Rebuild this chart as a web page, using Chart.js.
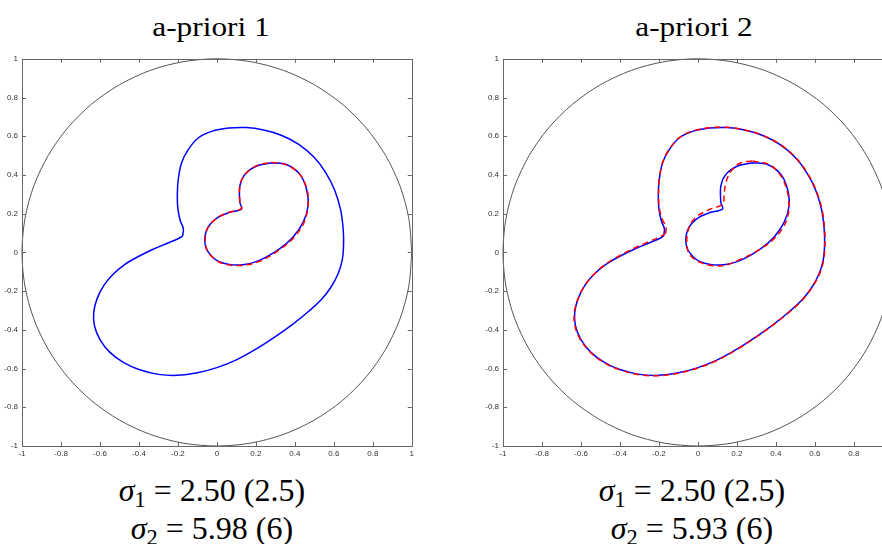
<!DOCTYPE html>
<html>
<head>
<meta charset="utf-8">
<script src="https://cdn.jsdelivr.net/npm/chart.js@4.4.0/dist/chart.umd.min.js"></script>
<style>
html, body { margin: 0; padding: 0; width: 882px; height: 544px; overflow: hidden; background: #fff; }
canvas { position: absolute; }
.title { position: absolute; top: 13px; width: 300px; text-align: center; line-height: 28px;
         font-family: 'Liberation Serif', 'DejaVu Serif', 'Times New Roman', Times, serif; font-size: 27px; color: #000;
         transform: scaleX(1.16); }
.sigma { position: absolute; top: 471px; width: 320px; text-align: center; line-height: 38px;
         font-family: 'Liberation Serif', 'DejaVu Serif', 'Times New Roman', Times, serif; font-size: 32px; color: #000; }
.sigma sub { font-size: 0.7em; vertical-align: -0.25em; line-height: 0; }
</style>
</head>
<body>
<div class="title" style="left:61px">a-priori 1</div>
<div class="title" style="left:544px">a-priori 2</div>
<canvas id="chart1" width="417" height="416" style="left:0px; top:50px"></canvas>
<canvas id="chart2" width="417" height="416" style="left:481px; top:50px"></canvas>
<div class="sigma" style="left:52px"><i>σ</i><sub>1</sub> = 2.50 (2.5)<br><i>σ</i><sub>2</sub> = 5.98 (6)</div>
<div class="sigma" style="left:532px"><i>σ</i><sub>1</sub> = 2.50 (2.5)<br><i>σ</i><sub>2</sub> = 5.93 (6)</div>
<script>
// unit circle
let circleX = [1, 0.985, 0.940, 0.866, 0.766, 0.643, 0.5, 0.342, 0.174, 0, -0.174, -0.342, -0.5, -0.643, -0.766, -0.866, -0.940, -0.985,
               -1, -0.985, -0.940, -0.866, -0.766, -0.643, -0.5, -0.342, -0.174, 0, 0.174, 0.342, 0.5, 0.643, 0.766, 0.866, 0.940, 0.985, 1];
let circleY = [0, 0.174, 0.342, 0.5, 0.643, 0.766, 0.866, 0.940, 0.985, 1, 0.985, 0.940, 0.866, 0.766, 0.643, 0.5, 0.342, 0.174,
               0, -0.174, -0.342, -0.5, -0.643, -0.766, -0.866, -0.940, -0.985, -1, -0.985, -0.940, -0.866, -0.766, -0.643, -0.5, -0.342, -0.174, 0];

// true boundary (blue), outer curve
let outerX = [-0.176, -0.172, -0.188, -0.200, -0.203, -0.198, -0.181, -0.147, -0.096, -0.027, 0.060, 0.150, 0.240, 0.330, 0.420, 0.500,
              0.560, 0.605, 0.635, 0.648, 0.650, 0.643, 0.622, 0.585, 0.535, 0.470, 0.390, 0.300, 0.200, 0.100, 0.000, -0.100, -0.200,
              -0.300, -0.400, -0.480, -0.550, -0.600, -0.628, -0.632, -0.615, -0.580, -0.530, -0.470, -0.400, -0.330, -0.260, -0.205, -0.176];
let outerY = [0.084, 0.122, 0.165, 0.225, 0.293, 0.378, 0.463, 0.531, 0.591, 0.625, 0.642, 0.645, 0.632, 0.605, 0.558, 0.490,
              0.410, 0.320, 0.220, 0.120, 0.040, -0.040, -0.110, -0.180, -0.245, -0.305, -0.370, -0.435, -0.500, -0.555, -0.595, -0.622, -0.635,
              -0.630, -0.605, -0.568, -0.515, -0.450, -0.380, -0.310, -0.240, -0.170, -0.110, -0.060, -0.020, 0.015, 0.045, 0.068, 0.084];

// true boundary (blue), inner curve
let innerX = [0.280, 0.357, 0.426, 0.460, 0.468, 0.443, 0.391, 0.323, 0.221, 0.118, 0.015, -0.045, -0.062, -0.045, 0.007, 0.067, 0.127, 0.118, 0.118, 0.144, 0.204, 0.280];
let innerY = [0.463, 0.454, 0.403, 0.326, 0.241, 0.156, 0.079, 0.019, -0.040, -0.065, -0.049, 0.003, 0.062, 0.130, 0.182, 0.207, 0.224, 0.258, 0.344, 0.403, 0.446, 0.463];

// reconstruction a-priori 1 (red dashed), inner curve only
let rec1InnerX = [0.280, 0.357, 0.426, 0.462, 0.468, 0.445, 0.393, 0.323, 0.221, 0.118, 0.015, -0.045, -0.060, -0.045, 0.007, 0.067, 0.125, 0.118, 0.118, 0.144, 0.204, 0.280];
let rec1InnerY = [0.465, 0.452, 0.403, 0.326, 0.241, 0.150, 0.075, 0.015, -0.045, -0.068, -0.052, 0.003, 0.062, 0.130, 0.182, 0.209, 0.226, 0.258, 0.344, 0.403, 0.448, 0.465];

// reconstruction a-priori 2 (red dashed)
let rec2OuterX = [-0.166, -0.163, -0.182, -0.197, -0.202, -0.198, -0.181, -0.147, -0.096, -0.027, 0.060, 0.150, 0.240, 0.332, 0.422, 0.502,
                  0.562, 0.607, 0.637, 0.650, 0.652, 0.645, 0.624, 0.585, 0.535, 0.470, 0.390, 0.300, 0.200, 0.100, 0.000, -0.100, -0.200,
                  -0.300, -0.400, -0.480, -0.552, -0.603, -0.631, -0.634, -0.615, -0.580, -0.530, -0.470, -0.400, -0.330, -0.260, -0.200, -0.166];
let rec2OuterY = [0.098, 0.130, 0.170, 0.225, 0.293, 0.378, 0.465, 0.533, 0.593, 0.627, 0.644, 0.646, 0.632, 0.605, 0.558, 0.490,
                  0.410, 0.320, 0.220, 0.120, 0.040, -0.040, -0.112, -0.182, -0.247, -0.307, -0.372, -0.437, -0.502, -0.557, -0.597, -0.624, -0.637,
                  -0.632, -0.607, -0.570, -0.515, -0.450, -0.380, -0.310, -0.240, -0.170, -0.110, -0.058, -0.016, 0.020, 0.052, 0.078, 0.098];
let rec2InnerX = [0.280, 0.366, 0.426, 0.460, 0.468, 0.443, 0.391, 0.323, 0.221, 0.118, 0.015, -0.045, -0.057, -0.045, -0.010, 0.058, 0.127, 0.135, 0.149, 0.178, 0.221, 0.280];
let rec2InnerY = [0.472, 0.454, 0.395, 0.309, 0.224, 0.139, 0.071, 0.019, -0.035, -0.070, -0.053, -0.007, 0.062, 0.130, 0.182, 0.221, 0.250, 0.310, 0.378, 0.429, 0.463, 0.472];

let axisMin = -1;
let axisMax = 1;
let axisStep = 0.2;

function puntos(xs, ys) {
    return xs.map((x, i) => ({ x: x, y: ys[i] }));
}

function curva(xs, ys, color, dashed) {
    return {
        data: puntos(xs, ys),
        showLine: true,
        borderColor: color,
        borderWidth: 1.5,
        borderDash: dashed ? [6, 4] : [],
        pointRadius: 0,
        tension: 0.35,
        fill: false
    };
}

function circulo() {
    return {
        data: puntos(circleX, circleY),
        showLine: true,
        borderColor: '#555',
        borderWidth: 1,
        pointRadius: 0,
        tension: 0.3,
        clip: false,
        fill: false
    };
}

// caja estilo MATLAB con ticks hacia dentro
const cajaTicks = {
    id: 'cajaTicks',
    afterDraw(chart) {
        let ctx = chart.ctx;
        let a = chart.chartArea;
        let sx = chart.scales.x;
        let sy = chart.scales.y;
        ctx.save();
        ctx.strokeStyle = '#666';
        ctx.lineWidth = 1;
        ctx.beginPath();
        ctx.rect(Math.round(a.left) + 0.5, Math.round(a.top) + 0.5, Math.round(a.right - a.left), Math.round(a.bottom - a.top));
        sx.ticks.forEach(t => {
            let px = Math.round(sx.getPixelForValue(t.value)) + 0.5;
            ctx.moveTo(px, a.bottom); ctx.lineTo(px, a.bottom - 4);
            ctx.moveTo(px, a.top); ctx.lineTo(px, a.top + 4);
        });
        sy.ticks.forEach(t => {
            let py = Math.round(sy.getPixelForValue(t.value)) + 0.5;
            ctx.moveTo(a.left, py); ctx.lineTo(a.left + 4, py);
            ctx.moveTo(a.right, py); ctx.lineTo(a.right - 4, py);
        });
        ctx.stroke();
        ctx.restore();
    }
};

function ejes() {
    let tickFont = { family: "'Liberation Sans', 'DejaVu Sans', sans-serif", size: 8 };
    let fmt = v => (Math.round(v * 10) / 10).toString();
    return {
        x: {
            type: 'linear', min: axisMin, max: axisMax,
            grid: { display: false, drawTicks: false },
            border: { display: false },
            ticks: { stepSize: axisStep, font: tickFont, color: '#333', padding: 3, maxRotation: 0, callback: fmt },
            afterFit: s => { s.height = 20; }
        },
        y: {
            type: 'linear', min: axisMin, max: axisMax,
            grid: { display: false, drawTicks: false },
            border: { display: false },
            ticks: { stepSize: axisStep, font: tickFont, color: '#333', padding: 4, callback: fmt },
            afterFit: s => { s.width = 22; }
        }
    };
}

function opciones() {
    return {
        responsive: false,
        animation: false,
        layout: { padding: { top: 5, right: 5, left: 0, bottom: 0 } },
        plugins: { legend: { display: false }, tooltip: { enabled: false } },
        scales: ejes()
    };
}

let ctx1 = document.getElementById('chart1').getContext('2d');
let ctx2 = document.getElementById('chart2').getContext('2d');

let myChart1 = new Chart(ctx1, {
    type: 'scatter',
    data: {
        datasets: [
            curva(rec1InnerX, rec1InnerY, '#ff0000', true),
            curva(innerX, innerY, '#0000ff', false),
            curva(outerX, outerY, '#0000ff', false),
            circulo()
        ]
    },
    options: opciones(),
    plugins: [cajaTicks]
});

let myChart2 = new Chart(ctx2, {
    type: 'scatter',
    data: {
        datasets: [
            curva(rec2InnerX, rec2InnerY, '#ff0000', true),
            curva(rec2OuterX, rec2OuterY, '#ff0000', true),
            curva(innerX, innerY, '#0000ff', false),
            curva(outerX, outerY, '#0000ff', false),
            circulo()
        ]
    },
    options: opciones(),
    plugins: [cajaTicks]
});
</script>
</body>
</html>
